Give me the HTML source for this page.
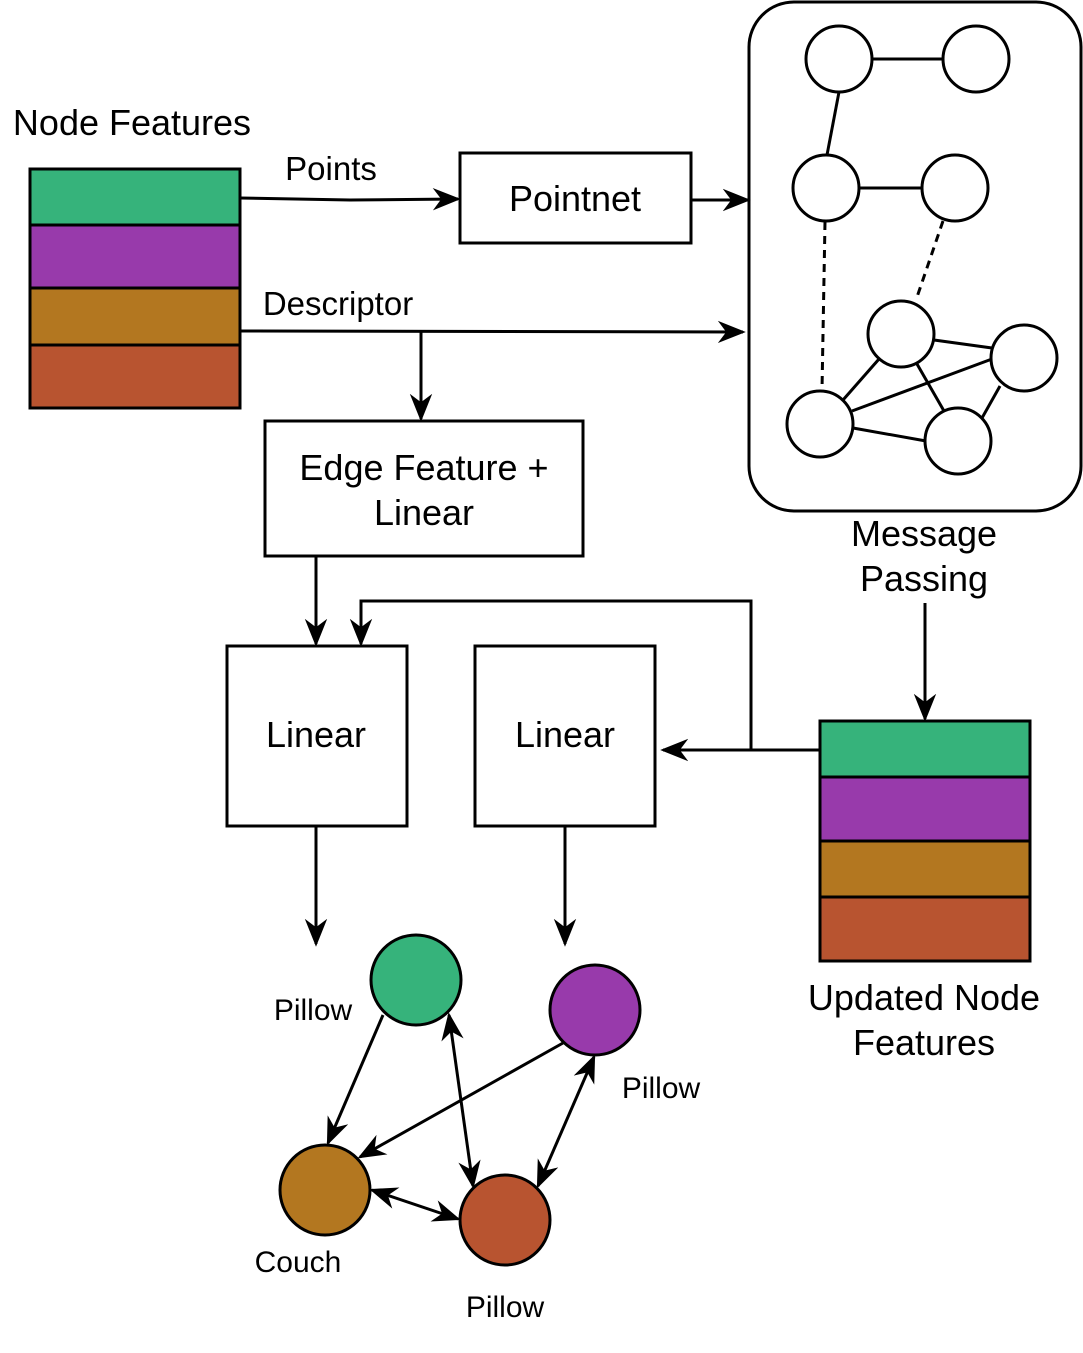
<!DOCTYPE html>
<html><head><meta charset="utf-8"><style>
html,body{margin:0;padding:0;background:#fff;}
svg{display:block;}
text{font-family:"Liberation Sans",sans-serif;fill:#000;}
</style></head><body>
<svg width="1083" height="1353" viewBox="0 0 1083 1353" xmlns="http://www.w3.org/2000/svg">
<defs>
<marker id="b" viewBox="0 0 10 10" refX="9" refY="5" markerWidth="28" markerHeight="28" markerUnits="userSpaceOnUse" orient="auto-start-reverse">
<path d="M0,1 L10,5 L0,9 L3,5 z" fill="#000"/>
</marker>
</defs>
<g stroke="#000" stroke-width="3">
<rect x="30" y="169" width="210" height="56" fill="#36b37b"/>
<rect x="30" y="225" width="210" height="63" fill="#983aab"/>
<rect x="30" y="288" width="210" height="57" fill="#b37720"/>
<rect x="30" y="345" width="210" height="63" fill="#b85430"/>
<rect x="820" y="721" width="210" height="56" fill="#36b37b"/>
<rect x="820" y="777" width="210" height="64" fill="#983aab"/>
<rect x="820" y="841" width="210" height="56" fill="#b37720"/>
<rect x="820" y="897" width="210" height="64" fill="#b85430"/>
<rect x="460" y="153" width="231" height="90" fill="#fff"/>
<rect x="265" y="421" width="318" height="135" fill="#fff"/>
<rect x="227" y="646" width="180" height="180" fill="#fff"/>
<rect x="475" y="646" width="180" height="180" fill="#fff"/>
<rect x="749" y="2" width="332" height="509" rx="45" fill="#fff"/>
</g>
<g stroke="#000" stroke-width="3" fill="none">
<path d="M240,198 L350,200 L458,199" marker-end="url(#b)"/>
<path d="M691,200 L748,200" marker-end="url(#b)"/>
<path d="M240,331 L743,332" marker-end="url(#b)"/>
<path d="M421,331 L421,419" marker-end="url(#b)"/>
<path d="M316,556 L316,644" marker-end="url(#b)"/>
<path d="M820,750 L663,750" marker-end="url(#b)"/>
<path d="M751,750 L751,601 L361,601 L361,644" marker-end="url(#b)"/>
<path d="M925,603 L925,719" marker-end="url(#b)"/>
<path d="M316,826 L316,944" marker-end="url(#b)"/>
<path d="M565,826 L565,944" marker-end="url(#b)"/>
<line x1="872" y1="59" x2="943" y2="59"/>
<line x1="839" y1="92" x2="827" y2="155"/>
<line x1="859" y1="188" x2="922" y2="188"/>
<line x1="825" y1="222" x2="822" y2="390" stroke-dasharray="8,6"/>
<line x1="943" y1="221" x2="916" y2="300" stroke-dasharray="8,6"/>
<line x1="934" y1="340" x2="992" y2="348"/>
<line x1="879" y1="359" x2="843" y2="400"/>
<line x1="852" y1="411" x2="992" y2="359"/>
<line x1="853" y1="428" x2="926" y2="441"/>
<line x1="917" y1="364" x2="944" y2="411"/>
<line x1="1000" y1="386" x2="982" y2="418"/>
</g>
<g stroke="#000" stroke-width="3" fill="#fff">
<circle cx="839" cy="59" r="33"/>
<circle cx="976" cy="59" r="33"/>
<circle cx="826" cy="188" r="33"/>
<circle cx="955" cy="188" r="33"/>
<circle cx="901" cy="334" r="33"/>
<circle cx="1024" cy="358" r="33"/>
<circle cx="820" cy="424" r="33"/>
<circle cx="958" cy="441" r="33"/>
</g>
<g stroke="#000" stroke-width="3" fill="none">
<path d="M383,1015 L328,1143" marker-end="url(#b)"/>
<path d="M563,1043 L360,1157" marker-end="url(#b)"/>
<path d="M449,1015 L473,1186" marker-start="url(#b)" marker-end="url(#b)"/>
<path d="M594,1057 L538,1186" marker-start="url(#b)" marker-end="url(#b)"/>
<path d="M372,1190 L458,1219" marker-start="url(#b)" marker-end="url(#b)"/>
</g>
<g stroke="#000" stroke-width="3">
<circle cx="416" cy="980" r="45" fill="#36b37b"/>
<circle cx="595" cy="1010" r="45" fill="#983aab"/>
<circle cx="325" cy="1190" r="45" fill="#b37720"/>
<circle cx="505" cy="1220" r="45" fill="#b85430"/>
</g>
<text x="132" y="135" font-size="36" text-anchor="middle">Node Features</text>
<text x="331" y="180" font-size="33" text-anchor="middle">Points</text>
<text x="338" y="315" font-size="33" text-anchor="middle">Descriptor</text>
<text x="575" y="211" font-size="36" text-anchor="middle">Pointnet</text>
<text x="424" y="480" font-size="36" text-anchor="middle">Edge Feature +</text>
<text x="424" y="525" font-size="36" text-anchor="middle">Linear</text>
<text x="316" y="747" font-size="36" text-anchor="middle">Linear</text>
<text x="565" y="747" font-size="36" text-anchor="middle">Linear</text>
<text x="924" y="546" font-size="36" text-anchor="middle">Message</text>
<text x="924" y="591" font-size="36" text-anchor="middle">Passing</text>
<text x="924" y="1010" font-size="36" text-anchor="middle">Updated Node</text>
<text x="924" y="1055" font-size="36" text-anchor="middle">Features</text>
<text x="313" y="1020" font-size="30" text-anchor="middle">Pillow</text>
<text x="661" y="1098" font-size="30" text-anchor="middle">Pillow</text>
<text x="298" y="1272" font-size="30" text-anchor="middle">Couch</text>
<text x="505" y="1317" font-size="30" text-anchor="middle">Pillow</text>
</svg>
</body></html>
